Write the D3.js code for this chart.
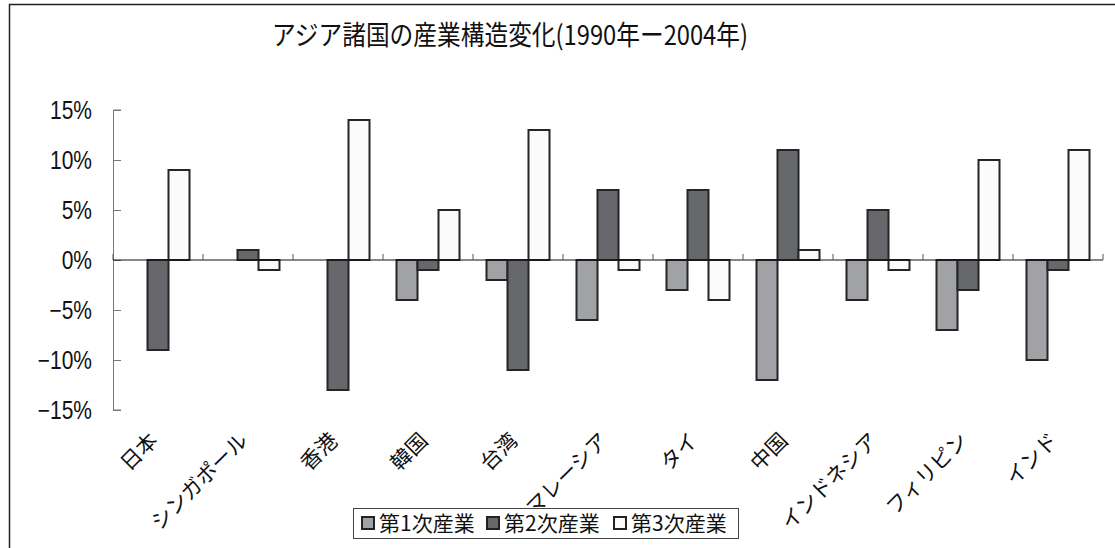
<!DOCTYPE html>
<html>
<head>
<meta charset="utf-8">
<script src="https://cdn.jsdelivr.net/npm/d3@7"></script>
<style>
  html, body { margin: 0; padding: 0; background: #fff; }
  svg { display: block; }
</style>
</head>
<body>
<svg id="chart" width="1115" height="548"></svg>
<script>
// Change in industry share, 1990–2004 (percentage points)
const categories = ["日本", "シンガポール", "香港", "韓国", "台湾", "マレーシア", "タイ", "中国", "インドネシア", "フィリピン", "インド"];
const seriesNames = ["第1次産業", "第2次産業", "第3次産業"];
const primary   = [0, 0, 0, -4, -2, -6, -3, -12, -4, -7, -10];
const secondary = [-9, 1, -13, -1, -11, 7, 7, 11, 5, -3, -1];
const tertiary  = [9, -1, 14, 5, 13, -1, -4, 1, -1, 10, 11];
const yTicks = [-15, -10, -5, 0, 5, 10, 15];
const seriesColors = ["#a1a2a5", "#67686b", "#fbfbfb"];

const series = [primary, secondary, tertiary];
const svg = d3.select("#chart");
const W = 1115, H = 548;

// outer chart frame (left and top edges)
svg.append("path")
  .attr("d", `M9.5,${H} V4.5 H${W}`)
  .attr("fill", "none").attr("stroke", "#222").attr("stroke-width", 1.5);

// title
svg.append("text")
  .attr("x", 272).attr("y", 45)
  .attr("textLength", 476).attr("lengthAdjust", "spacingAndGlyphs")
  .attr("font-family", "'Noto Sans CJK JP', sans-serif")
  .attr("font-size", 27)
  .attr("fill", "#111")
  .text("アジア諸国の産業構造変化(1990年ー2004年)");

const x0 = d3.scaleBand().domain(categories).range([113, 1103]).paddingInner(0).paddingOuter(0);
const x1 = d3.scaleBand().domain(d3.range(3)).range([13.5, 76.5]);
const y = d3.scaleLinear().domain([-15, 15]).range([410, 110]);

// y axis with inward ticks
const yAxis = svg.append("g").attr("transform", "translate(113,0)")
  .call(d3.axisRight(y).tickValues(yTicks).tickSize(8).tickFormat(""));
yAxis.select(".domain").attr("stroke", "#777").attr("d", `M8,${y(-15)}H0.5V${y(15)}H8`);
yAxis.selectAll(".tick line").attr("stroke", "#777");

// tick labels, condensed
svg.append("g").selectAll("text").data(yTicks).join("text")
  .attr("transform", d => `translate(92,${y(d) + 9}) scale(0.84,1)`)
  .attr("text-anchor", "end")
  .attr("font-family", "'Liberation Sans', sans-serif")
  .attr("font-size", 25)
  .attr("fill", "#111")
  .text(d => (d < 0 ? "\u2212" + Math.abs(d) : d) + "%");

// bars
const groups = svg.append("g").selectAll("g").data(categories).join("g")
  .attr("transform", d => `translate(${x0(d)},0)`);
groups.selectAll("rect")
  .data((d, i) => series.map((s, k) => ({ k, v: s[i] })))
  .join("rect")
  .attr("x", d => x1(d.k))
  .attr("width", x1.bandwidth())
  .attr("y", d => y(Math.max(0, d.v)))
  .attr("height", d => Math.abs(y(d.v) - y(0)))
  .attr("fill", d => seriesColors[d.k])
  .attr("stroke", "#252525")
  .attr("stroke-width", 2);

// category axis at zero with upward ticks between groups
const xAxis = svg.append("g").attr("transform", `translate(0,${y(0)})`);
xAxis.append("line").attr("x1", 113).attr("x2", 1103).attr("stroke", "#111").attr("stroke-width", 1.2);
xAxis.selectAll("line.tk").data(d3.range(categories.length + 1)).join("line")
  .attr("class", "tk")
  .attr("x1", i => 113 + i * x0.bandwidth()).attr("x2", i => 113 + i * x0.bandwidth())
  .attr("y1", 0).attr("y2", -6)
  .attr("stroke", "#555").attr("stroke-width", 1);

// rotated category labels
svg.append("g").selectAll("text").data(categories).join("text")
  .attr("transform", d => `translate(${x0(d) + x0.bandwidth() / 2 + 1},${442}) rotate(-45)`)
  .attr("text-anchor", "end")
  .attr("font-family", "'Noto Sans CJK JP', sans-serif")
  .attr("font-size", 21)
  .attr("fill", "#111")
  .text(d => d);

// legend
const lg = svg.append("g");
lg.append("rect").attr("x", 353.5).attr("y", 508.5).attr("width", 385).attr("height", 30)
  .attr("fill", "#fff").attr("stroke", "#444").attr("stroke-width", 1);
const legendX = [362, 487, 614];
seriesNames.forEach((name, k) => {
  lg.append("rect").attr("x", legendX[k]).attr("y", 517).attr("width", 12).attr("height", 12)
    .attr("fill", seriesColors[k]).attr("stroke", "#222").attr("stroke-width", 2);
  lg.append("text").attr("x", legendX[k] + 17).attr("y", 531)
    .attr("font-family", "'Noto Sans CJK JP', sans-serif")
    .attr("font-size", 21).attr("fill", "#111")
    .text(name);
});
</script>
</body>
</html>
